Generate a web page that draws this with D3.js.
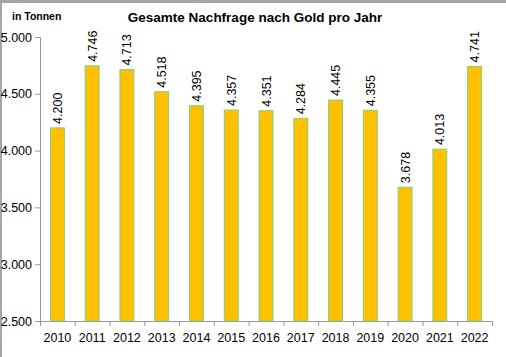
<!DOCTYPE html>
<html><head><meta charset="utf-8">
<script src="https://cdn.jsdelivr.net/npm/d3@7"></script>
<style>body{margin:0;background:#fff}svg{display:block;font-family:Arial,"Liberation Sans",sans-serif}</style>
</head><body><svg id="c" width="506" height="357"></svg>
<script>
const years = ["2010","2011","2012","2013","2014","2015","2016","2017","2018","2019","2020","2021","2022"];
const demand = [4200,4746,4713,4518,4395,4357,4351,4284,4445,4355,3678,4013,4741];
const yTicks = [2500,3000,3500,4000,4500,5000];

const svg = d3.select("#c");
const fmt = v => d3.format(",")(v).replace(/,/g,".");
const x = d3.scaleBand().domain(years).range([40,492]).paddingInner(0.6).paddingOuter(0.3);
const y = d3.scaleLinear().domain([2500,5000]).range([321,37]);

// border
svg.append("rect").attr("x",0).attr("y",0).attr("width",506).attr("height",3).attr("fill","#a6a6a6");
svg.append("rect").attr("x",0).attr("y",0).attr("width",2).attr("height",357).attr("fill","#a6a6a6");

svg.append("text").attr("x",12).attr("y",20).attr("font-size",10.5).attr("font-weight","bold").text("in Tonnen");
svg.append("text").attr("x",255).attr("y",22).attr("text-anchor","middle").attr("font-size",13.5).attr("font-weight","bold").text("Gesamte Nachfrage nach Gold pro Jahr");

const ya = svg.append("g").attr("transform","translate(40,0)")
  .call(d3.axisLeft(y).tickValues(yTicks).tickFormat(fmt).tickSize(5).tickPadding(3));
ya.selectAll("text").attr("font-size",12.5).attr("fill","#000").attr("font-family","Arial,'Liberation Sans',sans-serif");
ya.selectAll("line,path").attr("stroke","#999");

const xa = svg.append("g").attr("transform","translate(0,321)")
  .call(d3.axisBottom(x).tickSize(0).tickPadding(12));
xa.selectAll("text").attr("font-size",12.5).attr("fill","#000").attr("font-family","Arial,'Liberation Sans',sans-serif");
xa.select("path").attr("stroke","#999").attr("d","M40,0.5H492");
const bounds = d3.range(years.length+1).map(i => 40 + i*(452/years.length));
xa.selectAll(".bt").data(bounds).enter().append("line").attr("class","bt")
  .attr("x1",d=>d+0.5).attr("x2",d=>d+0.5).attr("y1",0).attr("y2",5).attr("stroke","#999");

const data = years.map((yr,i)=>({yr, v:demand[i]}));
svg.selectAll(".bar").data(data).enter().append("rect")
  .attr("x",d=>x(d.yr)).attr("width",x.bandwidth())
  .attr("y",d=>y(d.v)).attr("height",d=>y(2500)-y(d.v))
  .attr("fill","#FFC000").attr("stroke","#7ED07E").attr("stroke-width",1);

svg.selectAll(".lbl").data(data).enter().append("text")
  .attr("transform",d=>`translate(${x(d.yr)+x.bandwidth()/2+4.5},${y(d.v)-4}) rotate(-90)`)
  .attr("font-size",12.5).text(d=>fmt(d.v));
</script></body></html>
